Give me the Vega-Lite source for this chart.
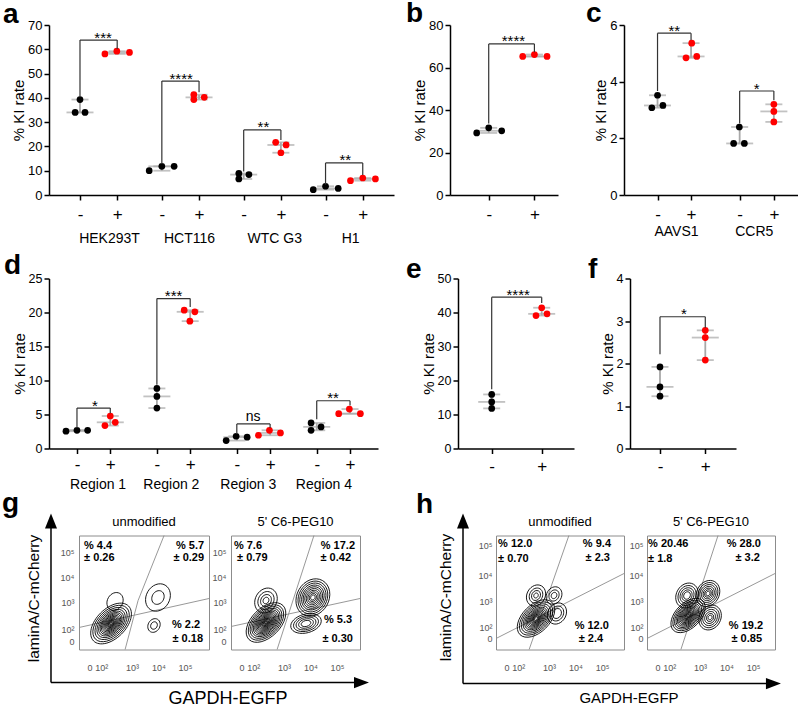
{
"$schema":"https://vega.github.io/schema/vega-lite/v6.json",
"padding":{"left":1,"top":0,"right":0,"bottom":0},
"config":{"font":"Liberation Sans","view":{"stroke":null},"axis":{"grid":false,"domainColor":"#000","tickColor":"#000","labelColor":"#000","titleColor":"#000","domainWidth":1.5,"tickWidth":1.5,"titleFontWeight":"normal","labelFont":"Liberation Sans","titleFont":"Liberation Sans"},"text":{"font":"Liberation Sans"}},
"datasets":{
"blobs":[
{"b":"g1","u":2.21,"v":2.16,"s":"diag","d":[1.9,1.7,1.5,1.32,1.16,1.02,0.9,0.78,0.67,0.57,0.48,0.4,0.32,0.25,0.18,0.11]},
{"b":"g1","u":2.36,"v":3.04,"s":"round","d":[0.72]},
{"b":"g1","u":3.98,"v":3.2,"s":"round","d":[1.1,0.55]},
{"b":"g1","u":3.83,"v":2.08,"s":"round","d":[0.55,0.3]},
{"b":"g2","u":2.32,"v":2.2,"s":"diag","d":[1.85,1.65,1.48,1.32,1.18,1.05,0.93,0.82,0.72,0.62,0.53,0.45,0.37,0.3,0.23,0.16,0.1]},
{"b":"g2","u":2.32,"v":3.08,"s":"round","d":[1.0,0.72,0.48,0.26]},
{"b":"g2","u":4.09,"v":3.2,"s":"round","d":[1.5,1.32,1.16,1.0,0.86,0.72,0.58,0.45,0.32,0.2]},
{"b":"g2","u":3.83,"v":2.16,"s":"wide","d":[1.2,0.98,0.78,0.58,0.38]},
{"b":"h1","u":2.51,"v":2.36,"s":"diag","d":[1.75,1.55,1.37,1.2,1.05,0.92,0.8,0.69,0.59,0.5,0.41,0.33,0.25,0.17]},
{"b":"h1","u":2.51,"v":3.28,"s":"round","d":[0.85,0.6,0.4,0.2]},
{"b":"h1","u":3.19,"v":3.28,"s":"round","d":[0.7,0.45,0.25]},
{"b":"h1","u":3.3,"v":2.56,"s":"round","d":[0.85,0.6,0.4]},
{"b":"h2","u":2.55,"v":2.48,"s":"diag","d":[1.6,1.42,1.26,1.12,0.99,0.87,0.76,0.66,0.56,0.47,0.39,0.31,0.24,0.17,0.1]},
{"b":"h2","u":2.51,"v":3.28,"s":"round","d":[1.0,0.8,0.62,0.45,0.3]},
{"b":"h2","u":3.3,"v":3.36,"s":"round","d":[1.05,0.88,0.72,0.57,0.43,0.3,0.18]},
{"b":"h2","u":3.38,"v":2.4,"s":"round","d":[1.0,0.82,0.65,0.48,0.32,0.18]}
],
"gates":[
{"b":"g1","gate":"s","u":1.0,"v":2.0},{"b":"g1","gate":"s","u":5.906,"v":3.16},
{"b":"g1","gate":"t","u":2.74,"v":1.12},{"b":"g1","gate":"t","u":3.23,"v":3.08},{"b":"g1","gate":"t","u":4.21,"v":5.68},
{"b":"g2","gate":"s","u":1.0,"v":2.04},{"b":"g2","gate":"s","u":5.868,"v":3.16},
{"b":"g2","gate":"t","u":2.74,"v":1.12},{"b":"g2","gate":"t","u":4.13,"v":5.68},
{"b":"h1","gate":"s","u":1.0,"v":1.56},{"b":"h1","gate":"s","u":5.83,"v":4.16},
{"b":"h1","gate":"t","u":2.25,"v":1.12},{"b":"h1","gate":"t","u":3.75,"v":5.68},
{"b":"h2","gate":"s","u":1.0,"v":1.56},{"b":"h2","gate":"s","u":5.83,"v":4.16},
{"b":"h2","gate":"t","u":2.28,"v":1.12},{"b":"h2","gate":"t","u":3.68,"v":5.68}
],
"quads":[
{"b":"g1","q":"UL","t":"% 4.4","u":1.19,"v":5.28},{"b":"g1","q":"UL","t":"± 0.26","u":1.19,"v":4.8},
{"b":"g1","q":"UR","t":"% 5.7","u":5.72,"v":5.28},{"b":"g1","q":"UR","t":"± 0.29","u":5.72,"v":4.8},
{"b":"g1","q":"LR","t":"% 2.2","u":5.57,"v":2.12},{"b":"g1","q":"LR","t":"± 0.18","u":5.68,"v":1.56},
{"b":"g2","q":"UL","t":"% 7.6","u":1.11,"v":5.28},{"b":"g2","q":"UL","t":"± 0.79","u":1.23,"v":4.8},
{"b":"g2","q":"UR","t":"% 17.2","u":5.68,"v":5.28},{"b":"g2","q":"UR","t":"± 0.42","u":5.53,"v":4.8},
{"b":"g2","q":"LR","t":"% 5.3","u":5.57,"v":2.32},{"b":"g2","q":"LR","t":"± 0.30","u":5.6,"v":1.56},
{"b":"h1","q":"UL","t":"% 12.0","u":1.08,"v":5.36},{"b":"h1","q":"UL","t":"± 0.70","u":1.08,"v":4.76},
{"b":"h1","q":"UR","t":"% 9.4","u":5.34,"v":5.36},{"b":"h1","q":"UR","t":"± 2.3","u":5.3,"v":4.8},
{"b":"h1","q":"LR","t":"% 12.0","u":5.26,"v":2.08},{"b":"h1","q":"LR","t":"± 2.4","u":5.04,"v":1.56},
{"b":"h2","q":"UL","t":"% 20.46","u":1.04,"v":5.36},{"b":"h2","q":"UL","t":"± 1.8","u":1.04,"v":4.76},
{"b":"h2","q":"UR","t":"% 28.0","u":5.3,"v":5.36},{"b":"h2","q":"UR","t":"± 3.2","u":5.26,"v":4.8},
{"b":"h2","q":"LR","t":"% 19.2","u":5.38,"v":2.08},{"b":"h2","q":"LR","t":"± 0.85","u":5.34,"v":1.56}
]
},
"spacing":6.5,
"vconcat":[
{"hconcat":[
{"width":345,"height":170,
"data":{"values":[{"pos":1,"cond":"-","x":0.87,"v":34.0},{"pos":1,"cond":"-","x":1.0,"v":39.3},{"pos":1,"cond":"-","x":1.135,"v":34.0},
{"pos":2,"cond":"+","x":1.67,"v":58.1},{"pos":2,"cond":"+","x":1.99,"v":59.2},{"pos":2,"cond":"+","x":2.33,"v":58.7},
{"pos":3.2,"cond":"-","x":2.86,"v":10.0},{"pos":3.2,"cond":"-","x":3.2,"v":11.8},{"pos":3.2,"cond":"-","x":3.53,"v":11.8},
{"pos":4.2,"cond":"+","x":4.06,"v":41.3},{"pos":4.2,"cond":"+","x":4.06,"v":39.3},{"pos":4.2,"cond":"+","x":4.34,"v":40.2},
{"pos":5.4,"cond":"-","x":5.27,"v":8.9},{"pos":5.4,"cond":"-","x":5.27,"v":6.6},{"pos":5.4,"cond":"-","x":5.54,"v":8.4},
{"pos":6.4,"cond":"+","x":6.26,"v":21.7},{"pos":6.4,"cond":"+","x":6.4,"v":17.4},{"pos":6.4,"cond":"+","x":6.54,"v":20.6},
{"pos":7.6,"cond":"-","x":7.27,"v":2.2},{"pos":7.6,"cond":"-","x":7.6,"v":3.6},{"pos":7.6,"cond":"-","x":7.94,"v":2.7},
{"pos":8.6,"cond":"+","x":8.27,"v":5.9},{"pos":8.6,"cond":"+","x":8.6,"v":7.0},{"pos":8.6,"cond":"+","x":8.94,"v":6.6}]},
"layer":[
{"transform":[{"aggregate":[{"op":"min","field":"v","as":"lo"},{"op":"max","field":"v","as":"hi"},{"op":"median","field":"v","as":"md"}],"groupby":["pos","cond"]}],
"layer":[
{"mark":{"type":"rule","color":"#a8a8a8","strokeWidth":1.8},"encoding":{"x":{"field":"pos","type":"quantitative","scale":{"domain":[0.167,9.44],"nice":false,"zero":false},"axis":{"orient":"bottom","values":[1,2,3.2,4.2,5.4,6.4,7.6,8.6],"labelExpr":"indexof([1,3.2,5.4,7.6],datum.value)>=0?'-':'+'","title":null,"labelFontSize":17,"labelPadding":6,"tickSize":5,"labelFlush":false,"labelOverlap":false}},"y":{"field":"lo","type":"quantitative","scale":{"domain":[0,70],"nice":false},"axis":{"orient":"left","values":[0,10,20,30,40,50,60,70],"title":"% KI rate","titleFontSize":15,"labelFontSize":13,"tickSize":5,"labelPadding":2,"titlePadding":1}},"y2":{"field":"hi"}}},
{"mark":{"type":"tick","orient":"horizontal","color":"#a8a8a8","thickness":1.8,"size":27},"encoding":{"x":{"field":"pos","type":"quantitative","scale":{"domain":[0.167,9.44],"nice":false,"zero":false},"axis":null},"y":{"field":"md","type":"quantitative","scale":{"domain":[0,70],"nice":false},"axis":null}}},
{"mark":{"type":"tick","orient":"horizontal","color":"#a8a8a8","thickness":1.8,"size":17},"encoding":{"x":{"field":"pos","type":"quantitative","scale":{"domain":[0.167,9.44],"nice":false,"zero":false},"axis":null},"y":{"field":"lo","type":"quantitative","scale":{"domain":[0,70],"nice":false},"axis":null}}},
{"mark":{"type":"tick","orient":"horizontal","color":"#a8a8a8","thickness":1.8,"size":17},"encoding":{"x":{"field":"pos","type":"quantitative","scale":{"domain":[0.167,9.44],"nice":false,"zero":false},"axis":null},"y":{"field":"hi","type":"quantitative","scale":{"domain":[0,70],"nice":false},"axis":null}}}
],"resolve":{"axis":{"x":"independent","y":"independent"}}},
{"mark":{"type":"circle","size":45,"opacity":1},"encoding":{"x":{"field":"x","type":"quantitative","scale":{"domain":[0.167,9.44],"nice":false,"zero":false},"axis":null},"y":{"field":"v","type":"quantitative","scale":{"domain":[0,70],"nice":false},"axis":null},"color":{"field":"cond","type":"nominal","scale":{"domain":["-","+"],"range":["#000000","#ff0000"]},"legend":null}}},
{"data":{"values":[{"x1":1,"x2":2,"yl":40.2,"yr":60.1,"top":63.8,"xm":1.62,"lab":"***"},{"x1":3.2,"x2":4.2,"yl":12.8,"yr":42.3,"top":46.9,"xm":3.72,"lab":"****"},{"x1":5.4,"x2":6.4,"yl":9.7,"yr":22.6,"top":26.8,"xm":5.93,"lab":"**"},{"x1":7.6,"x2":8.6,"yl":4.3,"yr":8.2,"top":13.2,"xm":8.13,"lab":"**"}]},
"layer":[
{"mark":{"type":"rule","color":"#333","strokeWidth":1.2},"encoding":{"x":{"field":"x1","type":"quantitative","scale":{"domain":[0.167,9.44],"nice":false,"zero":false},"axis":null},"y":{"field":"yl","type":"quantitative","scale":{"domain":[0,70],"nice":false},"axis":null},"y2":{"field":"top"}}},
{"mark":{"type":"rule","color":"#333","strokeWidth":1.2},"encoding":{"x":{"field":"x2","type":"quantitative","scale":{"domain":[0.167,9.44],"nice":false,"zero":false},"axis":null},"y":{"field":"yr","type":"quantitative","scale":{"domain":[0,70],"nice":false},"axis":null},"y2":{"field":"top"}}},
{"mark":{"type":"rule","color":"#333","strokeWidth":1.2},"encoding":{"x":{"field":"x1","type":"quantitative","scale":{"domain":[0.167,9.44],"nice":false,"zero":false},"axis":null},"x2":{"field":"x2"},"y":{"field":"top","type":"quantitative","scale":{"domain":[0,70],"nice":false},"axis":null}}},
{"mark":{"type":"text","fontSize":15,"baseline":"alphabetic","dy":2.5},"encoding":{"x":{"field":"xm","type":"quantitative","scale":{"domain":[0.167,9.44],"nice":false,"zero":false},"axis":null},"y":{"field":"top","type":"quantitative","scale":{"domain":[0,70],"nice":false},"axis":null},"text":{"field":"lab"}}}
],"resolve":{"axis":{"x":"independent","y":"independent"}}},
{"data":{"values":[{"t":"a","lx":-1.07,"ly":71.0}]},"mark":{"type":"text","fontSize":28,"fontWeight":"bold","align":"left","baseline":"alphabetic"},"encoding":{"x":{"field":"lx","type":"quantitative","scale":{"domain":[0.167,9.44],"nice":false,"zero":false},"axis":null},"y":{"field":"ly","type":"quantitative","scale":{"domain":[0,70],"nice":false},"axis":null},"text":{"field":"t"}}},
{"data":{"values":[{"xc":1.78},{"xc":3.93},{"xc":6.22},{"xc":8.26}]},"mark":{"type":"text","text":".","opacity":0},"encoding":{"x":{"field":"xc","type":"quantitative","scale":{"domain":[0.167,9.44],"nice":false,"zero":false},"axis":{"orient":"bottom","values":[1.78,3.93,6.22,8.26],"labelExpr":"datum.value<3?'HEK293T':datum.value<5?'HCT116':datum.value<7?'WTC G3':'H1'","title":null,"domain":false,"ticks":false,"labelFontSize":14,"offset":36,"labelPadding":0,"labelFlush":false,"labelOverlap":false}}}}
],
"resolve":{"axis":{"x":"independent","y":"independent"}}
},
{"width":56,"height":170,"data":{"values":[{}]},"mark":{"type":"point","opacity":0}},
{"width":108,"height":170,
"data":{"values":[{"pos":1,"cond":"-","x":0.737,"v":29.2},{"pos":1,"cond":"-","x":1.0,"v":31.6},{"pos":1,"cond":"-","x":1.284,"v":30.2},{"pos":2,"cond":"+","x":1.744,"v":65.2},{"pos":2,"cond":"+","x":2.0,"v":66.1},{"pos":2,"cond":"+","x":2.276,"v":65.2}]},
"layer":[
{"transform":[{"aggregate":[{"op":"min","field":"v","as":"lo"},{"op":"max","field":"v","as":"hi"},{"op":"median","field":"v","as":"md"}],"groupby":["pos","cond"]}],
"layer":[
{"mark":{"type":"rule","color":"#a8a8a8","strokeWidth":1.8},"encoding":{"x":{"field":"pos","type":"quantitative","scale":{"domain":[0.153,2.516],"nice":false,"zero":false},"axis":{"orient":"bottom","values":[1,2],"labelExpr":"datum.value<1.5?'-':'+'","title":null,"labelFontSize":17,"labelPadding":6,"tickSize":5,"labelFlush":false,"labelOverlap":false}},"y":{"field":"lo","type":"quantitative","scale":{"domain":[0,80],"nice":false},"axis":{"orient":"left","values":[0,20,40,60,80],"title":"% KI rate","titleFontSize":15,"labelFontSize":13,"tickSize":5,"labelPadding":2,"titlePadding":1}},"y2":{"field":"hi"}}},
{"mark":{"type":"tick","orient":"horizontal","color":"#a8a8a8","thickness":1.8,"size":27},"encoding":{"x":{"field":"pos","type":"quantitative","scale":{"domain":[0.153,2.516],"nice":false,"zero":false},"axis":null},"y":{"field":"md","type":"quantitative","scale":{"domain":[0,80],"nice":false},"axis":null}}},
{"mark":{"type":"tick","orient":"horizontal","color":"#a8a8a8","thickness":1.8,"size":17},"encoding":{"x":{"field":"pos","type":"quantitative","scale":{"domain":[0.153,2.516],"nice":false,"zero":false},"axis":null},"y":{"field":"lo","type":"quantitative","scale":{"domain":[0,80],"nice":false},"axis":null}}},
{"mark":{"type":"tick","orient":"horizontal","color":"#a8a8a8","thickness":1.8,"size":17},"encoding":{"x":{"field":"pos","type":"quantitative","scale":{"domain":[0.153,2.516],"nice":false,"zero":false},"axis":null},"y":{"field":"hi","type":"quantitative","scale":{"domain":[0,80],"nice":false},"axis":null}}}
],"resolve":{"axis":{"x":"independent","y":"independent"}}},
{"mark":{"type":"circle","size":45,"opacity":1},"encoding":{"x":{"field":"x","type":"quantitative","scale":{"domain":[0.153,2.516],"nice":false,"zero":false},"axis":null},"y":{"field":"v","type":"quantitative","scale":{"domain":[0,80],"nice":false},"axis":null},"color":{"field":"cond","type":"nominal","scale":{"domain":["-","+"],"range":["#000000","#ff0000"]},"legend":null}}},
{"data":{"values":[{"x1":1,"x2":2,"yl":33.6,"yr":67.2,"top":71.1,"xm":1.54,"lab":"****"}]},
"layer":[
{"mark":{"type":"rule","color":"#333","strokeWidth":1.2},"encoding":{"x":{"field":"x1","type":"quantitative","scale":{"domain":[0.153,2.516],"nice":false,"zero":false},"axis":null},"y":{"field":"yl","type":"quantitative","scale":{"domain":[0,80],"nice":false},"axis":null},"y2":{"field":"top"}}},
{"mark":{"type":"rule","color":"#333","strokeWidth":1.2},"encoding":{"x":{"field":"x2","type":"quantitative","scale":{"domain":[0.153,2.516],"nice":false,"zero":false},"axis":null},"y":{"field":"yr","type":"quantitative","scale":{"domain":[0,80],"nice":false},"axis":null},"y2":{"field":"top"}}},
{"mark":{"type":"rule","color":"#333","strokeWidth":1.2},"encoding":{"x":{"field":"x1","type":"quantitative","scale":{"domain":[0.153,2.516],"nice":false,"zero":false},"axis":null},"x2":{"field":"x2"},"y":{"field":"top","type":"quantitative","scale":{"domain":[0,80],"nice":false},"axis":null}}},
{"mark":{"type":"text","fontSize":15,"baseline":"alphabetic","dy":2.5},"encoding":{"x":{"field":"xm","type":"quantitative","scale":{"domain":[0.153,2.516],"nice":false,"zero":false},"axis":null},"y":{"field":"top","type":"quantitative","scale":{"domain":[0,80],"nice":false},"axis":null},"text":{"field":"lab"}}}
],"resolve":{"axis":{"x":"independent","y":"independent"}}},
{"data":{"values":[{"t":"b","lx":-0.81,"ly":81.2}]},"mark":{"type":"text","fontSize":28,"fontWeight":"bold","align":"left","baseline":"alphabetic"},"encoding":{"x":{"field":"lx","type":"quantitative","scale":{"domain":[0.153,2.516],"nice":false,"zero":false},"axis":null},"y":{"field":"ly","type":"quantitative","scale":{"domain":[0,80],"nice":false},"axis":null},"text":{"field":"t"}}}
],
"resolve":{"axis":{"x":"independent","y":"independent"}}
},
{"width":66,"height":170,"data":{"values":[{}]},"mark":{"type":"point","opacity":0}},
{"width":174,"height":170,
"data":{"values":[{"pos":1,"cond":"-","x":0.83,"v":3.08},{"pos":1,"cond":"-","x":1.0,"v":3.52},{"pos":1,"cond":"-","x":1.16,"v":3.16},
{"pos":2,"cond":"+","x":1.85,"v":4.84},{"pos":2,"cond":"+","x":2.02,"v":5.36},{"pos":2,"cond":"+","x":2.17,"v":4.89},
{"pos":3.45,"cond":"-","x":3.27,"v":1.82},{"pos":3.45,"cond":"-","x":3.44,"v":2.4},{"pos":3.45,"cond":"-","x":3.59,"v":1.82},
{"pos":4.47,"cond":"+","x":4.47,"v":3.2},{"pos":4.47,"cond":"+","x":4.47,"v":2.95},{"pos":4.47,"cond":"+","x":4.47,"v":2.58}]},
"layer":[
{"transform":[{"aggregate":[{"op":"min","field":"v","as":"lo"},{"op":"max","field":"v","as":"hi"},{"op":"median","field":"v","as":"md"}],"groupby":["pos","cond"]}],
"layer":[
{"mark":{"type":"rule","color":"#a8a8a8","strokeWidth":1.8},"encoding":{"x":{"field":"pos","type":"quantitative","scale":{"domain":[0,5.19],"nice":false,"zero":false},"axis":{"orient":"bottom","values":[1,2,3.45,4.47],"labelExpr":"indexof([1,3.45],datum.value)>=0?'-':'+'","title":null,"labelFontSize":17,"labelPadding":6,"tickSize":5,"labelFlush":false,"labelOverlap":false}},"y":{"field":"lo","type":"quantitative","scale":{"domain":[0,6],"nice":false},"axis":{"orient":"left","values":[0,2,4,6],"title":"% KI rate","titleFontSize":15,"labelFontSize":13,"tickSize":5,"labelPadding":2,"titlePadding":1}},"y2":{"field":"hi"}}},
{"mark":{"type":"tick","orient":"horizontal","color":"#a8a8a8","thickness":1.8,"size":27},"encoding":{"x":{"field":"pos","type":"quantitative","scale":{"domain":[0,5.19],"nice":false,"zero":false},"axis":null},"y":{"field":"md","type":"quantitative","scale":{"domain":[0,6],"nice":false},"axis":null}}},
{"mark":{"type":"tick","orient":"horizontal","color":"#a8a8a8","thickness":1.8,"size":17},"encoding":{"x":{"field":"pos","type":"quantitative","scale":{"domain":[0,5.19],"nice":false,"zero":false},"axis":null},"y":{"field":"lo","type":"quantitative","scale":{"domain":[0,6],"nice":false},"axis":null}}},
{"mark":{"type":"tick","orient":"horizontal","color":"#a8a8a8","thickness":1.8,"size":17},"encoding":{"x":{"field":"pos","type":"quantitative","scale":{"domain":[0,5.19],"nice":false,"zero":false},"axis":null},"y":{"field":"hi","type":"quantitative","scale":{"domain":[0,6],"nice":false},"axis":null}}}
],"resolve":{"axis":{"x":"independent","y":"independent"}}},
{"mark":{"type":"circle","size":45,"opacity":1},"encoding":{"x":{"field":"x","type":"quantitative","scale":{"domain":[0,5.19],"nice":false,"zero":false},"axis":null},"y":{"field":"v","type":"quantitative","scale":{"domain":[0,6],"nice":false},"axis":null},"color":{"field":"cond","type":"nominal","scale":{"domain":["-","+"],"range":["#000000","#ff0000"]},"legend":null}}},
{"data":{"values":[{"x1":1,"x2":2,"yl":3.67,"yr":5.47,"top":5.71,"xm":1.5,"lab":"**"},{"x1":3.45,"x2":4.47,"yl":2.52,"yr":3.34,"top":3.67,"xm":3.96,"lab":"*"}]},
"layer":[
{"mark":{"type":"rule","color":"#333","strokeWidth":1.2},"encoding":{"x":{"field":"x1","type":"quantitative","scale":{"domain":[0,5.19],"nice":false,"zero":false},"axis":null},"y":{"field":"yl","type":"quantitative","scale":{"domain":[0,6],"nice":false},"axis":null},"y2":{"field":"top"}}},
{"mark":{"type":"rule","color":"#333","strokeWidth":1.2},"encoding":{"x":{"field":"x2","type":"quantitative","scale":{"domain":[0,5.19],"nice":false,"zero":false},"axis":null},"y":{"field":"yr","type":"quantitative","scale":{"domain":[0,6],"nice":false},"axis":null},"y2":{"field":"top"}}},
{"mark":{"type":"rule","color":"#333","strokeWidth":1.2},"encoding":{"x":{"field":"x1","type":"quantitative","scale":{"domain":[0,5.19],"nice":false,"zero":false},"axis":null},"x2":{"field":"x2"},"y":{"field":"top","type":"quantitative","scale":{"domain":[0,6],"nice":false},"axis":null}}},
{"mark":{"type":"text","fontSize":15,"baseline":"alphabetic","dy":2.5},"encoding":{"x":{"field":"xm","type":"quantitative","scale":{"domain":[0,5.19],"nice":false,"zero":false},"axis":null},"y":{"field":"top","type":"quantitative","scale":{"domain":[0,6],"nice":false},"axis":null},"text":{"field":"lab"}}}
],"resolve":{"axis":{"x":"independent","y":"independent"}}},
{"data":{"values":[{"t":"c","lx":-1.13,"ly":6.09}]},"mark":{"type":"text","fontSize":28,"fontWeight":"bold","align":"left","baseline":"alphabetic"},"encoding":{"x":{"field":"lx","type":"quantitative","scale":{"domain":[0,5.19],"nice":false,"zero":false},"axis":null},"y":{"field":"ly","type":"quantitative","scale":{"domain":[0,6],"nice":false},"axis":null},"text":{"field":"t"}}},
{"data":{"values":[{"xc":1.55},{"xc":3.87}]},"mark":{"type":"text","text":".","opacity":0},"encoding":{"x":{"field":"xc","type":"quantitative","scale":{"domain":[0,5.19],"nice":false,"zero":false},"axis":{"orient":"bottom","values":[1.55,3.87],"labelExpr":"datum.value<2.5?'AAVS1':'CCR5'","title":null,"domain":false,"ticks":false,"labelFontSize":14,"offset":29,"labelPadding":0,"labelFlush":false,"labelOverlap":false}}}}
],
"resolve":{"axis":{"x":"independent","y":"independent"}}
}
],"spacing":0,"bounds":"flush"},
{"vconcat":[
{"hconcat":[
{"width":329,"height":170,
"data":{"values":[{"pos":1,"cond":"-","x":0.67,"v":2.54},{"pos":1,"cond":"-","x":1.0,"v":2.68},{"pos":1,"cond":"-","x":1.32,"v":2.68},
{"pos":2,"cond":"+","x":1.84,"v":3.37},{"pos":2,"cond":"+","x":2.0,"v":4.78},{"pos":2,"cond":"+","x":2.15,"v":3.85},
{"pos":3.4,"cond":"-","x":3.4,"v":8.83},{"pos":3.4,"cond":"-","x":3.4,"v":7.66},{"pos":3.4,"cond":"-","x":3.4,"v":5.95},
{"pos":4.4,"cond":"+","x":4.22,"v":20.34},{"pos":4.4,"cond":"+","x":4.54,"v":20.1},{"pos":4.4,"cond":"+","x":4.39,"v":18.73},
{"pos":5.8,"cond":"-","x":5.48,"v":1.17},{"pos":5.8,"cond":"-","x":5.78,"v":1.8},{"pos":5.8,"cond":"-","x":6.11,"v":1.66},
{"pos":6.8,"cond":"+","x":6.45,"v":1.95},{"pos":6.8,"cond":"+","x":6.78,"v":2.68},{"pos":6.8,"cond":"+","x":7.11,"v":2.29},
{"pos":8.2,"cond":"-","x":8.03,"v":3.76},{"pos":8.2,"cond":"-","x":8.03,"v":2.68},{"pos":8.2,"cond":"-","x":8.33,"v":3.17},
{"pos":9.2,"cond":"+","x":8.86,"v":5.12},{"pos":9.2,"cond":"+","x":9.18,"v":5.8},{"pos":9.2,"cond":"+","x":9.51,"v":5.12}]},
"layer":[
{"transform":[{"aggregate":[{"op":"min","field":"v","as":"lo"},{"op":"max","field":"v","as":"hi"},{"op":"median","field":"v","as":"md"}],"groupby":["pos","cond"]}],
"layer":[
{"mark":{"type":"rule","color":"#a8a8a8","strokeWidth":1.8},"encoding":{"x":{"field":"pos","type":"quantitative","scale":{"domain":[0.16,10.04],"nice":false,"zero":false},"axis":{"orient":"bottom","values":[1,2,3.4,4.4,5.8,6.8,8.2,9.2],"labelExpr":"indexof([1,3.4,5.8,8.2],datum.value)>=0?'-':'+'","title":null,"labelFontSize":17,"labelPadding":3,"tickSize":5,"labelFlush":false,"labelOverlap":false}},"y":{"field":"lo","type":"quantitative","scale":{"domain":[0,25],"nice":false},"axis":{"orient":"left","values":[0,5,10,15,20,25],"title":"% KI rate","titleFontSize":15,"labelFontSize":12.5,"tickSize":5,"labelPadding":2,"titlePadding":1}},"y2":{"field":"hi"}}},
{"mark":{"type":"tick","orient":"horizontal","color":"#a8a8a8","thickness":1.8,"size":27},"encoding":{"x":{"field":"pos","type":"quantitative","scale":{"domain":[0.16,10.04],"nice":false,"zero":false},"axis":null},"y":{"field":"md","type":"quantitative","scale":{"domain":[0,25],"nice":false},"axis":null}}},
{"mark":{"type":"tick","orient":"horizontal","color":"#a8a8a8","thickness":1.8,"size":17},"encoding":{"x":{"field":"pos","type":"quantitative","scale":{"domain":[0.16,10.04],"nice":false,"zero":false},"axis":null},"y":{"field":"lo","type":"quantitative","scale":{"domain":[0,25],"nice":false},"axis":null}}},
{"mark":{"type":"tick","orient":"horizontal","color":"#a8a8a8","thickness":1.8,"size":17},"encoding":{"x":{"field":"pos","type":"quantitative","scale":{"domain":[0.16,10.04],"nice":false,"zero":false},"axis":null},"y":{"field":"hi","type":"quantitative","scale":{"domain":[0,25],"nice":false},"axis":null}}}
],"resolve":{"axis":{"x":"independent","y":"independent"}}},
{"mark":{"type":"circle","size":45,"opacity":1},"encoding":{"x":{"field":"x","type":"quantitative","scale":{"domain":[0.16,10.04],"nice":false,"zero":false},"axis":null},"y":{"field":"v","type":"quantitative","scale":{"domain":[0,25],"nice":false},"axis":null},"color":{"field":"cond","type":"nominal","scale":{"domain":["-","+"],"range":["#000000","#ff0000"]},"legend":null}}},
{"data":{"values":[{"x1":1,"x2":2,"yl":3.0,"yr":5.2,"top":5.95,"xm":1.54,"lab":"*"},{"x1":3.4,"x2":4.4,"yl":9.37,"yr":20.8,"top":22.05,"xm":3.9,"lab":"***"},{"x1":5.8,"x2":6.8,"yl":2.15,"yr":3.02,"top":3.61,"xm":6.29,"lab":"ns"},{"x1":8.2,"x2":9.2,"yl":4.29,"yr":6.34,"top":7.02,"xm":8.69,"lab":"**"}]},
"layer":[
{"mark":{"type":"rule","color":"#333","strokeWidth":1.2},"encoding":{"x":{"field":"x1","type":"quantitative","scale":{"domain":[0.16,10.04],"nice":false,"zero":false},"axis":null},"y":{"field":"yl","type":"quantitative","scale":{"domain":[0,25],"nice":false},"axis":null},"y2":{"field":"top"}}},
{"mark":{"type":"rule","color":"#333","strokeWidth":1.2},"encoding":{"x":{"field":"x2","type":"quantitative","scale":{"domain":[0.16,10.04],"nice":false,"zero":false},"axis":null},"y":{"field":"yr","type":"quantitative","scale":{"domain":[0,25],"nice":false},"axis":null},"y2":{"field":"top"}}},
{"mark":{"type":"rule","color":"#333","strokeWidth":1.2},"encoding":{"x":{"field":"x1","type":"quantitative","scale":{"domain":[0.16,10.04],"nice":false,"zero":false},"axis":null},"x2":{"field":"x2"},"y":{"field":"top","type":"quantitative","scale":{"domain":[0,25],"nice":false},"axis":null}}},
{"transform":[{"filter":"datum.lab!='ns'"}],"mark":{"type":"text","fontSize":15,"baseline":"alphabetic","dy":2.5},"encoding":{"x":{"field":"xm","type":"quantitative","scale":{"domain":[0.16,10.04],"nice":false,"zero":false},"axis":null},"y":{"field":"top","type":"quantitative","scale":{"domain":[0,25],"nice":false},"axis":null},"text":{"field":"lab"}}},
{"transform":[{"filter":"datum.lab=='ns'"}],"mark":{"type":"text","fontSize":14,"baseline":"alphabetic","dy":-2.5},"encoding":{"x":{"field":"xm","type":"quantitative","scale":{"domain":[0.16,10.04],"nice":false,"zero":false},"axis":null},"y":{"field":"top","type":"quantitative","scale":{"domain":[0,25],"nice":false},"axis":null},"text":{"field":"lab"}}}
],"resolve":{"axis":{"x":"independent","y":"independent"}}},
{"data":{"values":[{"t":"d","lx":-1.19,"ly":25.59}]},"mark":{"type":"text","fontSize":28,"fontWeight":"bold","align":"left","baseline":"alphabetic"},"encoding":{"x":{"field":"lx","type":"quantitative","scale":{"domain":[0.16,10.04],"nice":false,"zero":false},"axis":null},"y":{"field":"ly","type":"quantitative","scale":{"domain":[0,25],"nice":false},"axis":null},"text":{"field":"t"}}},
{"data":{"values":[{"xc":1.62},{"xc":3.82},{"xc":6.13},{"xc":8.4}]},"mark":{"type":"text","text":".","opacity":0},"encoding":{"x":{"field":"xc","type":"quantitative","scale":{"domain":[0.16,10.04],"nice":false,"zero":false},"axis":{"orient":"bottom","values":[1.62,3.82,6.13,8.4],"labelExpr":"datum.value<2.5?'Region 1':datum.value<5?'Region 2':datum.value<7.5?'Region 3':'Region 4'","title":null,"domain":false,"ticks":false,"labelFontSize":14,"offset":29,"labelPadding":0,"labelFlush":false,"labelOverlap":false}}}}
],
"resolve":{"axis":{"x":"independent","y":"independent"}}
},
{"width":80,"height":170,"data":{"values":[{}]},"mark":{"type":"point","opacity":0}},
{"width":116,"height":170,
"data":{"values":[{"pos":1,"cond":"-","x":1.0,"v":15.9},{"pos":1,"cond":"-","x":1.0,"v":13.7},{"pos":1,"cond":"-","x":1.0,"v":11.8},{"pos":2,"cond":"+","x":1.886,"v":39.1},{"pos":2,"cond":"+","x":2.0,"v":41.4},{"pos":2,"cond":"+","x":2.106,"v":39.6}]},
"layer":[
{"transform":[{"aggregate":[{"op":"min","field":"v","as":"lo"},{"op":"max","field":"v","as":"hi"},{"op":"median","field":"v","as":"md"}],"groupby":["pos","cond"]}],
"layer":[
{"mark":{"type":"rule","color":"#a8a8a8","strokeWidth":1.8},"encoding":{"x":{"field":"pos","type":"quantitative","scale":{"domain":[0.326,2.646],"nice":false,"zero":false},"axis":{"orient":"bottom","values":[1,2],"labelExpr":"datum.value<1.5?'-':'+'","title":null,"labelFontSize":17,"labelPadding":5,"tickSize":5,"labelFlush":false,"labelOverlap":false}},"y":{"field":"lo","type":"quantitative","scale":{"domain":[0,50],"nice":false},"axis":{"orient":"left","values":[0,10,20,30,40,50],"title":"% KI rate","titleFontSize":15,"labelFontSize":12.5,"tickSize":5,"labelPadding":2,"titlePadding":1}},"y2":{"field":"hi"}}},
{"mark":{"type":"tick","orient":"horizontal","color":"#a8a8a8","thickness":1.8,"size":27},"encoding":{"x":{"field":"pos","type":"quantitative","scale":{"domain":[0.326,2.646],"nice":false,"zero":false},"axis":null},"y":{"field":"md","type":"quantitative","scale":{"domain":[0,50],"nice":false},"axis":null}}},
{"mark":{"type":"tick","orient":"horizontal","color":"#a8a8a8","thickness":1.8,"size":17},"encoding":{"x":{"field":"pos","type":"quantitative","scale":{"domain":[0.326,2.646],"nice":false,"zero":false},"axis":null},"y":{"field":"lo","type":"quantitative","scale":{"domain":[0,50],"nice":false},"axis":null}}},
{"mark":{"type":"tick","orient":"horizontal","color":"#a8a8a8","thickness":1.8,"size":17},"encoding":{"x":{"field":"pos","type":"quantitative","scale":{"domain":[0.326,2.646],"nice":false,"zero":false},"axis":null},"y":{"field":"hi","type":"quantitative","scale":{"domain":[0,50],"nice":false},"axis":null}}}
],"resolve":{"axis":{"x":"independent","y":"independent"}}},
{"mark":{"type":"circle","size":45,"opacity":1},"encoding":{"x":{"field":"x","type":"quantitative","scale":{"domain":[0.326,2.646],"nice":false,"zero":false},"axis":null},"y":{"field":"v","type":"quantitative","scale":{"domain":[0,50],"nice":false},"axis":null},"color":{"field":"cond","type":"nominal","scale":{"domain":["-","+"],"range":["#000000","#ff0000"]},"legend":null}}},
{"data":{"values":[{"x1":1,"x2":2,"yl":17.4,"yr":42.8,"top":44.5,"xm":1.53,"lab":"****"}]},
"layer":[
{"mark":{"type":"rule","color":"#333","strokeWidth":1.2},"encoding":{"x":{"field":"x1","type":"quantitative","scale":{"domain":[0.326,2.646],"nice":false,"zero":false},"axis":null},"y":{"field":"yl","type":"quantitative","scale":{"domain":[0,50],"nice":false},"axis":null},"y2":{"field":"top"}}},
{"mark":{"type":"rule","color":"#333","strokeWidth":1.2},"encoding":{"x":{"field":"x2","type":"quantitative","scale":{"domain":[0.326,2.646],"nice":false,"zero":false},"axis":null},"y":{"field":"yr","type":"quantitative","scale":{"domain":[0,50],"nice":false},"axis":null},"y2":{"field":"top"}}},
{"mark":{"type":"rule","color":"#333","strokeWidth":1.2},"encoding":{"x":{"field":"x1","type":"quantitative","scale":{"domain":[0.326,2.646],"nice":false,"zero":false},"axis":null},"x2":{"field":"x2"},"y":{"field":"top","type":"quantitative","scale":{"domain":[0,50],"nice":false},"axis":null}}},
{"mark":{"type":"text","fontSize":15,"baseline":"alphabetic","dy":2.5},"encoding":{"x":{"field":"xm","type":"quantitative","scale":{"domain":[0.326,2.646],"nice":false,"zero":false},"axis":null},"y":{"field":"top","type":"quantitative","scale":{"domain":[0,50],"nice":false},"axis":null},"text":{"field":"lab"}}}
],"resolve":{"axis":{"x":"independent","y":"independent"}}},
{"data":{"values":[{"t":"e","lx":-0.714,"ly":50.15}]},"mark":{"type":"text","fontSize":28,"fontWeight":"bold","align":"left","baseline":"alphabetic"},"encoding":{"x":{"field":"lx","type":"quantitative","scale":{"domain":[0.326,2.646],"nice":false,"zero":false},"axis":null},"y":{"field":"ly","type":"quantitative","scale":{"domain":[0,50],"nice":false},"axis":null},"text":{"field":"t"}}}
],
"resolve":{"axis":{"x":"independent","y":"independent"}}
},
{"width":56,"height":170,"data":{"values":[{}]},"mark":{"type":"point","opacity":0}},
{"width":106,"height":170,
"data":{"values":[{"pos":1,"cond":"-","x":1.0,"v":1.92},{"pos":1,"cond":"-","x":1.0,"v":1.45},{"pos":1,"cond":"-","x":1.0,"v":1.23},{"pos":2,"cond":"+","x":2.0,"v":2.78},{"pos":2,"cond":"+","x":2.0,"v":2.61},{"pos":2,"cond":"+","x":2.0,"v":2.08}]},
"layer":[
{"transform":[{"aggregate":[{"op":"min","field":"v","as":"lo"},{"op":"max","field":"v","as":"hi"},{"op":"median","field":"v","as":"md"}],"groupby":["pos","cond"]}],
"layer":[
{"mark":{"type":"rule","color":"#a8a8a8","strokeWidth":1.8},"encoding":{"x":{"field":"pos","type":"quantitative","scale":{"domain":[0.338,2.678],"nice":false,"zero":false},"axis":{"orient":"bottom","values":[1,2],"labelExpr":"datum.value<1.5?'-':'+'","title":null,"labelFontSize":17,"labelPadding":5,"tickSize":5,"labelFlush":false,"labelOverlap":false}},"y":{"field":"lo","type":"quantitative","scale":{"domain":[0,4],"nice":false},"axis":{"orient":"left","values":[0,1,2,3,4],"title":"% KI rate","titleFontSize":15,"labelFontSize":12.5,"tickSize":5,"labelPadding":2,"titlePadding":1}},"y2":{"field":"hi"}}},
{"mark":{"type":"tick","orient":"horizontal","color":"#a8a8a8","thickness":1.8,"size":27},"encoding":{"x":{"field":"pos","type":"quantitative","scale":{"domain":[0.338,2.678],"nice":false,"zero":false},"axis":null},"y":{"field":"md","type":"quantitative","scale":{"domain":[0,4],"nice":false},"axis":null}}},
{"mark":{"type":"tick","orient":"horizontal","color":"#a8a8a8","thickness":1.8,"size":17},"encoding":{"x":{"field":"pos","type":"quantitative","scale":{"domain":[0.338,2.678],"nice":false,"zero":false},"axis":null},"y":{"field":"lo","type":"quantitative","scale":{"domain":[0,4],"nice":false},"axis":null}}},
{"mark":{"type":"tick","orient":"horizontal","color":"#a8a8a8","thickness":1.8,"size":17},"encoding":{"x":{"field":"pos","type":"quantitative","scale":{"domain":[0.338,2.678],"nice":false,"zero":false},"axis":null},"y":{"field":"hi","type":"quantitative","scale":{"domain":[0,4],"nice":false},"axis":null}}}
],"resolve":{"axis":{"x":"independent","y":"independent"}}},
{"mark":{"type":"circle","size":45,"opacity":1},"encoding":{"x":{"field":"x","type":"quantitative","scale":{"domain":[0.338,2.678],"nice":false,"zero":false},"axis":null},"y":{"field":"v","type":"quantitative","scale":{"domain":[0,4],"nice":false},"axis":null},"color":{"field":"cond","type":"nominal","scale":{"domain":["-","+"],"range":["#000000","#ff0000"]},"legend":null}}},
{"data":{"values":[{"x1":1,"x2":2,"yl":2.22,"yr":2.84,"top":3.1,"xm":1.53,"lab":"*"}]},
"layer":[
{"mark":{"type":"rule","color":"#333","strokeWidth":1.2},"encoding":{"x":{"field":"x1","type":"quantitative","scale":{"domain":[0.338,2.678],"nice":false,"zero":false},"axis":null},"y":{"field":"yl","type":"quantitative","scale":{"domain":[0,4],"nice":false},"axis":null},"y2":{"field":"top"}}},
{"mark":{"type":"rule","color":"#333","strokeWidth":1.2},"encoding":{"x":{"field":"x2","type":"quantitative","scale":{"domain":[0.338,2.678],"nice":false,"zero":false},"axis":null},"y":{"field":"yr","type":"quantitative","scale":{"domain":[0,4],"nice":false},"axis":null},"y2":{"field":"top"}}},
{"mark":{"type":"rule","color":"#333","strokeWidth":1.2},"encoding":{"x":{"field":"x1","type":"quantitative","scale":{"domain":[0.338,2.678],"nice":false,"zero":false},"axis":null},"x2":{"field":"x2"},"y":{"field":"top","type":"quantitative","scale":{"domain":[0,4],"nice":false},"axis":null}}},
{"mark":{"type":"text","fontSize":15,"baseline":"alphabetic","dy":2.5},"encoding":{"x":{"field":"xm","type":"quantitative","scale":{"domain":[0.338,2.678],"nice":false,"zero":false},"axis":null},"y":{"field":"top","type":"quantitative","scale":{"domain":[0,4],"nice":false},"axis":null},"text":{"field":"lab"}}}
],"resolve":{"axis":{"x":"independent","y":"independent"}}},
{"data":{"values":[{"t":"f","lx":-0.589,"ly":4.01}]},"mark":{"type":"text","fontSize":28,"fontWeight":"bold","align":"left","baseline":"alphabetic"},"encoding":{"x":{"field":"lx","type":"quantitative","scale":{"domain":[0.338,2.678],"nice":false,"zero":false},"axis":null},"y":{"field":"ly","type":"quantitative","scale":{"domain":[0,4],"nice":false},"axis":null},"text":{"field":"t"}}}
],
"resolve":{"axis":{"x":"independent","y":"independent"}}
}
],"spacing":0,"bounds":"flush"},
{"hconcat":[
{"width":30,"height":114,"data":{"values":[{}]},"mark":{"type":"point","opacity":0}},
{"width":130,"height":114,"view":{"stroke":"#8c8c8c","strokeWidth":1},
"layer":[
{"data":{"name":"gates"},"transform":[{"filter":"datum.b=='g1'"}],"mark":{"type":"line","color":"#8c8c8c","strokeWidth":0.9},"encoding":{"x":{"field":"u","type":"quantitative","scale":{"domain":[1,5.906],"nice":false,"zero":false},"axis":{"orient":"bottom","values":[1.4,1.84,3,4,5],"labelExpr":"datum.value<1.6?'0':datum.value<2?'10²':datum.value<3.5?'10³':datum.value<4.5?'10⁴':'10⁵'","title":null,"domain":false,"ticks":false,"labelFontSize":9,"labelColor":"#555","labelPadding":14,"labelFlush":false,"labelOverlap":false}},"y":{"field":"v","type":"quantitative","scale":{"domain":[1.12,5.68],"nice":false,"zero":false},"axis":{"orient":"left","values":[1.44,1.92,3,4,5],"labelExpr":"datum.value<1.7?'0':datum.value<2.5?'10²':datum.value<3.5?'10³':datum.value<4.5?'10⁴':'10⁵'","title":null,"domain":false,"ticks":false,"labelFontSize":9,"labelColor":"#555","labelPadding":5,"labelFlush":false,"labelOverlap":false}},"detail":{"field":"gate","type":"nominal"}}},
{"data":{"name":"blobs"},"transform":[{"filter":"datum.b=='g1'"},{"flatten":["d"]}],"mark":{"type":"point","filled":false,"color":"#000","strokeWidth":0.9,"opacity":1},"encoding":{"x":{"field":"u","type":"quantitative","scale":{"domain":[1,5.906],"nice":false,"zero":false},"axis":null},"y":{"field":"v","type":"quantitative","scale":{"domain":[1.12,5.68],"nice":false,"zero":false},"axis":null},"shape":{"field":"s","type":"nominal","scale":{"domain":["diag","round","wide"],"range":["M0.707,-0.707C0.941,-0.473,0.815,0.034,0.424,0.424C0.034,0.815,-0.473,0.941,-0.707,0.707C-0.941,0.473,-0.815,-0.034,-0.424,-0.424C-0.034,-0.815,0.473,-0.941,0.707,-0.707Z","M0.5,-0.866C0.892,-0.64,0.986,-0.068,0.71,0.41C0.434,0.888,-0.108,1.093,-0.5,0.866C-0.892,0.64,-0.986,0.068,-0.71,-0.41C-0.434,-0.888,0.108,-1.093,0.5,-0.866Z","M0.966,-0.259C1.052,0.061,0.689,0.437,0.155,0.58C-0.378,0.722,-0.88,0.579,-0.966,0.259C-1.052,-0.061,-0.689,-0.437,-0.155,-0.58C0.378,-0.722,0.88,-0.579,0.966,-0.259Z"]},"legend":null},"size":{"field":"d","type":"quantitative","scale":{"type":"pow","exponent":2,"domain":[0,2],"range":[0,2704]},"legend":null}}},
{"data":{"name":"quads"},"transform":[{"filter":"datum.b=='g1'&&datum.q=='UL'"}],"mark":{"type":"text","align":"left","baseline":"middle","fontSize":11,"fontWeight":"bold"},"encoding":{"x":{"field":"u","type":"quantitative","scale":{"domain":[1,5.906],"nice":false,"zero":false},"axis":null},"y":{"field":"v","type":"quantitative","scale":{"domain":[1.12,5.68],"nice":false,"zero":false},"axis":null},"text":{"field":"t"}}},
{"data":{"name":"quads"},"transform":[{"filter":"datum.b=='g1'&&datum.q!='UL'"}],"mark":{"type":"text","align":"right","baseline":"middle","fontSize":11,"fontWeight":"bold"},"encoding":{"x":{"field":"u","type":"quantitative","scale":{"domain":[1,5.906],"nice":false,"zero":false},"axis":null},"y":{"field":"v","type":"quantitative","scale":{"domain":[1.12,5.68],"nice":false,"zero":false},"axis":null},"text":{"field":"t"}}},
{"data":{"values":[{"t":"unmodified","xa":3.453,"ya":6.24}]},"mark":{"type":"text","fontSize":13,"align":"center","baseline":"middle"},"encoding":{"x":{"field":"xa","type":"quantitative","scale":{"domain":[1,5.906],"nice":false,"zero":false},"axis":null},"y":{"field":"ya","type":"quantitative","scale":{"domain":[1.12,5.68],"nice":false,"zero":false},"axis":null},"text":{"field":"t"}}},
{"data":{"values":[{"xa":-0.057,"xb":-0.057,"ya":-0.2,"yb":6.3},{"xa":-0.057,"xb":11.5,"ya":-0.2,"yb":-0.2}]},"mark":{"type":"rule","color":"#000","strokeWidth":1.5},"encoding":{"x":{"field":"xa","type":"quantitative","scale":{"domain":[1,5.906],"nice":false,"zero":false},"axis":null},"x2":{"field":"xb"},"y":{"field":"ya","type":"quantitative","scale":{"domain":[1.12,5.68],"nice":false,"zero":false},"axis":null},"y2":{"field":"yb"}}},
{"data":{"values":[{"xa":-0.057,"ya":6.26}]},"mark":{"type":"point","shape":"M0,-1L0.8,1L-0.8,1Z","filled":true,"color":"#000","size":225,"opacity":1},"encoding":{"x":{"field":"xa","type":"quantitative","scale":{"domain":[1,5.906],"nice":false,"zero":false},"axis":null},"y":{"field":"ya","type":"quantitative","scale":{"domain":[1.12,5.68],"nice":false,"zero":false},"axis":null}}},
{"data":{"values":[{"xa":11.66,"ya":-0.2}]},"mark":{"type":"point","shape":"M1,0L-1,0.75L-1,-0.75Z","filled":true,"color":"#000","size":225,"opacity":1},"encoding":{"x":{"field":"xa","type":"quantitative","scale":{"domain":[1,5.906],"nice":false,"zero":false},"axis":null},"y":{"field":"ya","type":"quantitative","scale":{"domain":[1.12,5.68],"nice":false,"zero":false},"axis":null}}},
{"data":{"values":[{"xa":-0.68,"ya":3.16,"t":"laminA/C-mCherry"}]},"mark":{"type":"text","angle":270,"fontSize":15.5,"align":"center","baseline":"middle"},"encoding":{"x":{"field":"xa","type":"quantitative","scale":{"domain":[1,5.906],"nice":false,"zero":false},"axis":null},"y":{"field":"ya","type":"quantitative","scale":{"domain":[1.12,5.68],"nice":false,"zero":false},"axis":null},"text":{"field":"t"}}},
{"data":{"values":[{"xa":6.62,"ya":-0.86,"t":"GAPDH-EGFP"}]},"mark":{"type":"text","fontSize":18,"align":"center","baseline":"middle"},"encoding":{"x":{"field":"xa","type":"quantitative","scale":{"domain":[1,5.906],"nice":false,"zero":false},"axis":null},"y":{"field":"ya","type":"quantitative","scale":{"domain":[1.12,5.68],"nice":false,"zero":false},"axis":null},"text":{"field":"t"}}},
{"data":{"values":[{"xa":-1.906,"ya":6.64,"t":"g"}]},"mark":{"type":"text","fontSize":28,"fontWeight":"bold","align":"left","baseline":"alphabetic"},"encoding":{"x":{"field":"xa","type":"quantitative","scale":{"domain":[1,5.906],"nice":false,"zero":false},"axis":null},"y":{"field":"ya","type":"quantitative","scale":{"domain":[1.12,5.68],"nice":false,"zero":false},"axis":null},"text":{"field":"t"}}}
],
"resolve":{"axis":{"x":"independent","y":"independent"}}
},
{"width":22,"height":114,"data":{"values":[{}]},"mark":{"type":"point","opacity":0}},
{"width":129,"height":114,"view":{"stroke":"#8c8c8c","strokeWidth":1},
"layer":[
{"data":{"name":"gates"},"transform":[{"filter":"datum.b=='g2'"}],"mark":{"type":"line","color":"#8c8c8c","strokeWidth":0.9},"encoding":{"x":{"field":"u","type":"quantitative","scale":{"domain":[1,5.868],"nice":false,"zero":false},"axis":{"orient":"bottom","values":[1.4,1.84,3,4,5],"labelExpr":"datum.value<1.6?'0':datum.value<2?'10²':datum.value<3.5?'10³':datum.value<4.5?'10⁴':'10⁵'","title":null,"domain":false,"ticks":false,"labelFontSize":9,"labelColor":"#555","labelPadding":14,"labelFlush":false,"labelOverlap":false}},"y":{"field":"v","type":"quantitative","scale":{"domain":[1.12,5.68],"nice":false,"zero":false},"axis":{"orient":"left","values":[1.44,1.92,3,4,5],"labelExpr":"datum.value<1.7?'0':datum.value<2.5?'10²':datum.value<3.5?'10³':datum.value<4.5?'10⁴':'10⁵'","title":null,"domain":false,"ticks":false,"labelFontSize":9,"labelColor":"#555","labelPadding":5,"labelFlush":false,"labelOverlap":false}},"detail":{"field":"gate","type":"nominal"}}},
{"data":{"name":"blobs"},"transform":[{"filter":"datum.b=='g2'"},{"flatten":["d"]}],"mark":{"type":"point","filled":false,"color":"#000","strokeWidth":0.9,"opacity":1},"encoding":{"x":{"field":"u","type":"quantitative","scale":{"domain":[1,5.868],"nice":false,"zero":false},"axis":null},"y":{"field":"v","type":"quantitative","scale":{"domain":[1.12,5.68],"nice":false,"zero":false},"axis":null},"shape":{"field":"s","type":"nominal","scale":{"domain":["diag","round","wide"],"range":["M0.707,-0.707C0.941,-0.473,0.815,0.034,0.424,0.424C0.034,0.815,-0.473,0.941,-0.707,0.707C-0.941,0.473,-0.815,-0.034,-0.424,-0.424C-0.034,-0.815,0.473,-0.941,0.707,-0.707Z","M0.5,-0.866C0.892,-0.64,0.986,-0.068,0.71,0.41C0.434,0.888,-0.108,1.093,-0.5,0.866C-0.892,0.64,-0.986,0.068,-0.71,-0.41C-0.434,-0.888,0.108,-1.093,0.5,-0.866Z","M0.966,-0.259C1.052,0.061,0.689,0.437,0.155,0.58C-0.378,0.722,-0.88,0.579,-0.966,0.259C-1.052,-0.061,-0.689,-0.437,-0.155,-0.58C0.378,-0.722,0.88,-0.579,0.966,-0.259Z"]},"legend":null},"size":{"field":"d","type":"quantitative","scale":{"type":"pow","exponent":2,"domain":[0,2],"range":[0,2704]},"legend":null}}},
{"data":{"name":"quads"},"transform":[{"filter":"datum.b=='g2'&&datum.q=='UL'"}],"mark":{"type":"text","align":"left","baseline":"middle","fontSize":11,"fontWeight":"bold"},"encoding":{"x":{"field":"u","type":"quantitative","scale":{"domain":[1,5.868],"nice":false,"zero":false},"axis":null},"y":{"field":"v","type":"quantitative","scale":{"domain":[1.12,5.68],"nice":false,"zero":false},"axis":null},"text":{"field":"t"}}},
{"data":{"name":"quads"},"transform":[{"filter":"datum.b=='g2'&&datum.q!='UL'"}],"mark":{"type":"text","align":"right","baseline":"middle","fontSize":11,"fontWeight":"bold"},"encoding":{"x":{"field":"u","type":"quantitative","scale":{"domain":[1,5.868],"nice":false,"zero":false},"axis":null},"y":{"field":"v","type":"quantitative","scale":{"domain":[1.12,5.68],"nice":false,"zero":false},"axis":null},"text":{"field":"t"}}},
{"data":{"values":[{"t":"5' C6-PEG10","xa":3.434,"ya":6.24}]},"mark":{"type":"text","fontSize":13,"align":"center","baseline":"middle"},"encoding":{"x":{"field":"xa","type":"quantitative","scale":{"domain":[1,5.868],"nice":false,"zero":false},"axis":null},"y":{"field":"ya","type":"quantitative","scale":{"domain":[1.12,5.68],"nice":false,"zero":false},"axis":null},"text":{"field":"t"}}}
],
"resolve":{"axis":{"x":"independent","y":"independent"}}
},
{"width":136,"height":114,"data":{"values":[{}]},"mark":{"type":"point","opacity":0}},
{"width":128,"height":114,"view":{"stroke":"#8c8c8c","strokeWidth":1},
"layer":[
{"data":{"name":"gates"},"transform":[{"filter":"datum.b=='h1'"}],"mark":{"type":"line","color":"#8c8c8c","strokeWidth":0.9},"encoding":{"x":{"field":"u","type":"quantitative","scale":{"domain":[1,5.83],"nice":false,"zero":false},"axis":{"orient":"bottom","values":[1.4,1.84,3,4,5],"labelExpr":"datum.value<1.6?'0':datum.value<2?'10²':datum.value<3.5?'10³':datum.value<4.5?'10⁴':'10⁵'","title":null,"domain":false,"ticks":false,"labelFontSize":9,"labelColor":"#555","labelPadding":14,"labelFlush":false,"labelOverlap":false}},"y":{"field":"v","type":"quantitative","scale":{"domain":[1.12,5.68],"nice":false,"zero":false},"axis":{"orient":"left","values":[1.56,2.0,3.04,4.08,5.28],"labelExpr":"datum.value<1.7?'0':datum.value<2.5?'10²':datum.value<3.5?'10³':datum.value<4.6?'10⁴':'10⁵'","title":null,"domain":false,"ticks":false,"labelFontSize":9,"labelColor":"#555","labelPadding":4,"labelFlush":false,"labelOverlap":false}},"detail":{"field":"gate","type":"nominal"}}},
{"data":{"name":"blobs"},"transform":[{"filter":"datum.b=='h1'"},{"flatten":["d"]}],"mark":{"type":"point","filled":false,"color":"#000","strokeWidth":0.9,"opacity":1},"encoding":{"x":{"field":"u","type":"quantitative","scale":{"domain":[1,5.83],"nice":false,"zero":false},"axis":null},"y":{"field":"v","type":"quantitative","scale":{"domain":[1.12,5.68],"nice":false,"zero":false},"axis":null},"shape":{"field":"s","type":"nominal","scale":{"domain":["diag","round","wide"],"range":["M0.707,-0.707C0.941,-0.473,0.815,0.034,0.424,0.424C0.034,0.815,-0.473,0.941,-0.707,0.707C-0.941,0.473,-0.815,-0.034,-0.424,-0.424C-0.034,-0.815,0.473,-0.941,0.707,-0.707Z","M0.5,-0.866C0.892,-0.64,0.986,-0.068,0.71,0.41C0.434,0.888,-0.108,1.093,-0.5,0.866C-0.892,0.64,-0.986,0.068,-0.71,-0.41C-0.434,-0.888,0.108,-1.093,0.5,-0.866Z","M0.966,-0.259C1.052,0.061,0.689,0.437,0.155,0.58C-0.378,0.722,-0.88,0.579,-0.966,0.259C-1.052,-0.061,-0.689,-0.437,-0.155,-0.58C0.378,-0.722,0.88,-0.579,0.966,-0.259Z"]},"legend":null},"size":{"field":"d","type":"quantitative","scale":{"type":"pow","exponent":2,"domain":[0,2],"range":[0,2704]},"legend":null}}},
{"data":{"name":"quads"},"transform":[{"filter":"datum.b=='h1'&&datum.q=='UL'"}],"mark":{"type":"text","align":"left","baseline":"middle","fontSize":11,"fontWeight":"bold"},"encoding":{"x":{"field":"u","type":"quantitative","scale":{"domain":[1,5.83],"nice":false,"zero":false},"axis":null},"y":{"field":"v","type":"quantitative","scale":{"domain":[1.12,5.68],"nice":false,"zero":false},"axis":null},"text":{"field":"t"}}},
{"data":{"name":"quads"},"transform":[{"filter":"datum.b=='h1'&&datum.q!='UL'"}],"mark":{"type":"text","align":"right","baseline":"middle","fontSize":11,"fontWeight":"bold"},"encoding":{"x":{"field":"u","type":"quantitative","scale":{"domain":[1,5.83],"nice":false,"zero":false},"axis":null},"y":{"field":"v","type":"quantitative","scale":{"domain":[1.12,5.68],"nice":false,"zero":false},"axis":null},"text":{"field":"t"}}},
{"data":{"values":[{"t":"unmodified","xa":3.415,"ya":6.24}]},"mark":{"type":"text","fontSize":13,"align":"center","baseline":"middle"},"encoding":{"x":{"field":"xa","type":"quantitative","scale":{"domain":[1,5.83],"nice":false,"zero":false},"axis":null},"y":{"field":"ya","type":"quantitative","scale":{"domain":[1.12,5.68],"nice":false,"zero":false},"axis":null},"text":{"field":"t"}}},
{"data":{"values":[{"xa":-0.245,"xb":-0.245,"ya":-0.24,"yb":6.3},{"xa":-0.245,"xb":11.3,"ya":-0.24,"yb":-0.24}]},"mark":{"type":"rule","color":"#000","strokeWidth":1.5},"encoding":{"x":{"field":"xa","type":"quantitative","scale":{"domain":[1,5.83],"nice":false,"zero":false},"axis":null},"x2":{"field":"xb"},"y":{"field":"ya","type":"quantitative","scale":{"domain":[1.12,5.68],"nice":false,"zero":false},"axis":null},"y2":{"field":"yb"}}},
{"data":{"values":[{"xa":-0.245,"ya":6.26}]},"mark":{"type":"point","shape":"M0,-1L0.8,1L-0.8,1Z","filled":true,"color":"#000","size":225,"opacity":1},"encoding":{"x":{"field":"xa","type":"quantitative","scale":{"domain":[1,5.83],"nice":false,"zero":false},"axis":null},"y":{"field":"ya","type":"quantitative","scale":{"domain":[1.12,5.68],"nice":false,"zero":false},"axis":null}}},
{"data":{"values":[{"xa":11.47,"ya":-0.24}]},"mark":{"type":"point","shape":"M1,0L-1,0.75L-1,-0.75Z","filled":true,"color":"#000","size":225,"opacity":1},"encoding":{"x":{"field":"xa","type":"quantitative","scale":{"domain":[1,5.83],"nice":false,"zero":false},"axis":null},"y":{"field":"ya","type":"quantitative","scale":{"domain":[1.12,5.68],"nice":false,"zero":false},"axis":null}}},
{"data":{"values":[{"xa":-0.887,"ya":3.2,"t":"laminA/C-mCherry"}]},"mark":{"type":"text","angle":270,"fontSize":15.5,"align":"center","baseline":"middle"},"encoding":{"x":{"field":"xa","type":"quantitative","scale":{"domain":[1,5.83],"nice":false,"zero":false},"axis":null},"y":{"field":"ya","type":"quantitative","scale":{"domain":[1.12,5.68],"nice":false,"zero":false},"axis":null},"text":{"field":"t"}}},
{"data":{"values":[{"xa":6.02,"ya":-0.8,"t":"GAPDH-EGFP"}]},"mark":{"type":"text","fontSize":15,"align":"center","baseline":"middle"},"encoding":{"x":{"field":"xa","type":"quantitative","scale":{"domain":[1,5.83],"nice":false,"zero":false},"axis":null},"y":{"field":"ya","type":"quantitative","scale":{"domain":[1.12,5.68],"nice":false,"zero":false},"axis":null},"text":{"field":"t"}}},
{"data":{"values":[{"xa":-2.02,"ya":6.6,"t":"h"}]},"mark":{"type":"text","fontSize":28,"fontWeight":"bold","align":"left","baseline":"alphabetic"},"encoding":{"x":{"field":"xa","type":"quantitative","scale":{"domain":[1,5.83],"nice":false,"zero":false},"axis":null},"y":{"field":"ya","type":"quantitative","scale":{"domain":[1.12,5.68],"nice":false,"zero":false},"axis":null},"text":{"field":"t"}}}
],
"resolve":{"axis":{"x":"independent","y":"independent"}}
},
{"width":23,"height":114,"data":{"values":[{}]},"mark":{"type":"point","opacity":0}},
{"width":128,"height":114,"view":{"stroke":"#8c8c8c","strokeWidth":1},
"layer":[
{"data":{"name":"gates"},"transform":[{"filter":"datum.b=='h2'"}],"mark":{"type":"line","color":"#8c8c8c","strokeWidth":0.9},"encoding":{"x":{"field":"u","type":"quantitative","scale":{"domain":[1,5.83],"nice":false,"zero":false},"axis":{"orient":"bottom","values":[1.4,1.84,3,4,5],"labelExpr":"datum.value<1.6?'0':datum.value<2?'10²':datum.value<3.5?'10³':datum.value<4.5?'10⁴':'10⁵'","title":null,"domain":false,"ticks":false,"labelFontSize":9,"labelColor":"#555","labelPadding":14,"labelFlush":false,"labelOverlap":false}},"y":{"field":"v","type":"quantitative","scale":{"domain":[1.12,5.68],"nice":false,"zero":false},"axis":{"orient":"left","values":[1.56,2.0,3.04,4.08,5.28],"labelExpr":"datum.value<1.7?'0':datum.value<2.5?'10²':datum.value<3.5?'10³':datum.value<4.6?'10⁴':'10⁵'","title":null,"domain":false,"ticks":false,"labelFontSize":9,"labelColor":"#555","labelPadding":4,"labelFlush":false,"labelOverlap":false}},"detail":{"field":"gate","type":"nominal"}}},
{"data":{"name":"blobs"},"transform":[{"filter":"datum.b=='h2'"},{"flatten":["d"]}],"mark":{"type":"point","filled":false,"color":"#000","strokeWidth":0.9,"opacity":1},"encoding":{"x":{"field":"u","type":"quantitative","scale":{"domain":[1,5.83],"nice":false,"zero":false},"axis":null},"y":{"field":"v","type":"quantitative","scale":{"domain":[1.12,5.68],"nice":false,"zero":false},"axis":null},"shape":{"field":"s","type":"nominal","scale":{"domain":["diag","round","wide"],"range":["M0.707,-0.707C0.941,-0.473,0.815,0.034,0.424,0.424C0.034,0.815,-0.473,0.941,-0.707,0.707C-0.941,0.473,-0.815,-0.034,-0.424,-0.424C-0.034,-0.815,0.473,-0.941,0.707,-0.707Z","M0.5,-0.866C0.892,-0.64,0.986,-0.068,0.71,0.41C0.434,0.888,-0.108,1.093,-0.5,0.866C-0.892,0.64,-0.986,0.068,-0.71,-0.41C-0.434,-0.888,0.108,-1.093,0.5,-0.866Z","M0.966,-0.259C1.052,0.061,0.689,0.437,0.155,0.58C-0.378,0.722,-0.88,0.579,-0.966,0.259C-1.052,-0.061,-0.689,-0.437,-0.155,-0.58C0.378,-0.722,0.88,-0.579,0.966,-0.259Z"]},"legend":null},"size":{"field":"d","type":"quantitative","scale":{"type":"pow","exponent":2,"domain":[0,2],"range":[0,2704]},"legend":null}}},
{"data":{"name":"quads"},"transform":[{"filter":"datum.b=='h2'&&datum.q=='UL'"}],"mark":{"type":"text","align":"left","baseline":"middle","fontSize":11,"fontWeight":"bold"},"encoding":{"x":{"field":"u","type":"quantitative","scale":{"domain":[1,5.83],"nice":false,"zero":false},"axis":null},"y":{"field":"v","type":"quantitative","scale":{"domain":[1.12,5.68],"nice":false,"zero":false},"axis":null},"text":{"field":"t"}}},
{"data":{"name":"quads"},"transform":[{"filter":"datum.b=='h2'&&datum.q!='UL'"}],"mark":{"type":"text","align":"right","baseline":"middle","fontSize":11,"fontWeight":"bold"},"encoding":{"x":{"field":"u","type":"quantitative","scale":{"domain":[1,5.83],"nice":false,"zero":false},"axis":null},"y":{"field":"v","type":"quantitative","scale":{"domain":[1.12,5.68],"nice":false,"zero":false},"axis":null},"text":{"field":"t"}}},
{"data":{"values":[{"t":"5' C6-PEG10","xa":3.415,"ya":6.24}]},"mark":{"type":"text","fontSize":13,"align":"center","baseline":"middle"},"encoding":{"x":{"field":"xa","type":"quantitative","scale":{"domain":[1,5.83],"nice":false,"zero":false},"axis":null},"y":{"field":"ya","type":"quantitative","scale":{"domain":[1.12,5.68],"nice":false,"zero":false},"axis":null},"text":{"field":"t"}}}
],
"resolve":{"axis":{"x":"independent","y":"independent"}}
}
],"spacing":0,"bounds":"flush"}
],"spacing":-3}
]
}
